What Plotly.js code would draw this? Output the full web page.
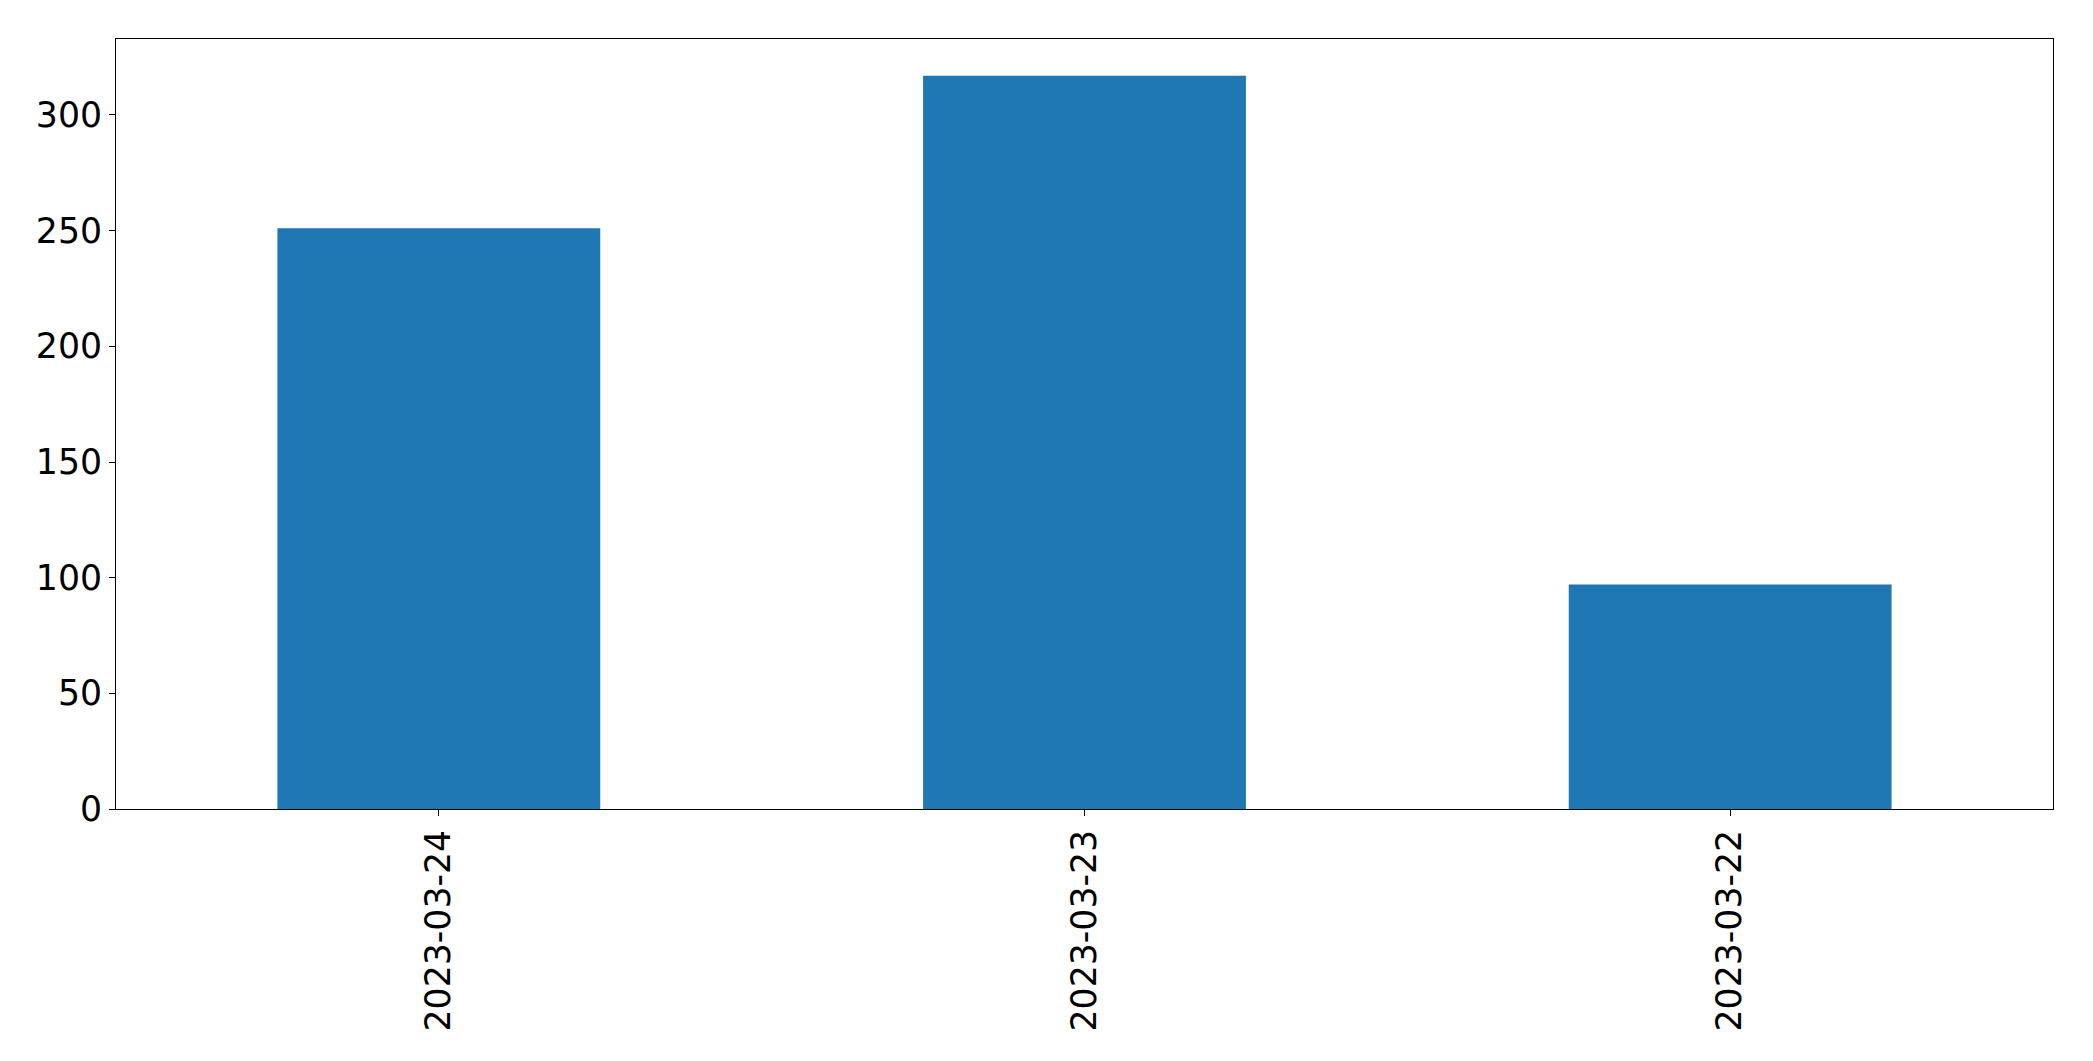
<!DOCTYPE html>
<html>
<head>
<meta charset="utf-8">
<script src="https://cdn.plot.ly/plotly-3.0.1.min.js"></script>
<style>html,body{margin:0;padding:0;background:#fff;}#chart{width:2093px;height:1061px;}</style>
</head>
<body>
<div id="chart"></div>
<script>
const categories = ["2023-03-24", "2023-03-23", "2023-03-22"];
const values = [251, 317, 97];
const yTicks = [0, 50, 100, 150, 200, 250, 300];

const font = {family: "DejaVu Sans, sans-serif", size: 34.7, color: "#000"};

Plotly.newPlot("chart", [{
  type: "bar",
  x: categories,
  y: values,
  width: 0.5,
  marker: {color: "#1f77b4", line: {width: 0}},
  hoverinfo: "x+y"
}], {
  width: 2093,
  height: 1061,
  margin: {l: 116, r: 40, t: 39, b: 252, pad: 0},
  paper_bgcolor: "#fff",
  plot_bgcolor: "#fff",
  showlegend: false,
  font: font,
  xaxis: {
    type: "category",
    range: [-0.5, 2.5],
    showgrid: false,
    zeroline: false,
    showline: true,
    mirror: true,
    linecolor: "#000",
    linewidth: 1,
    ticks: "outside",
    ticklen: 6,
    tickwidth: 1,
    tickcolor: "#000",
    tickangle: -90,
    tickfont: font,
    ticklabelstandoff: 0
  },
  yaxis: {
    range: [0, 332.85],
    tickvals: yTicks,
    ticktext: yTicks.map(String),
    showgrid: false,
    zeroline: false,
    showline: true,
    mirror: true,
    linecolor: "#000",
    linewidth: 1,
    ticks: "outside",
    ticklen: 6,
    tickwidth: 1,
    tickcolor: "#000",
    tickfont: font,
    ticklabelstandoff: 0
  }
}, {displayModeBar: false, staticPlot: true});
</script>
</body>
</html>
